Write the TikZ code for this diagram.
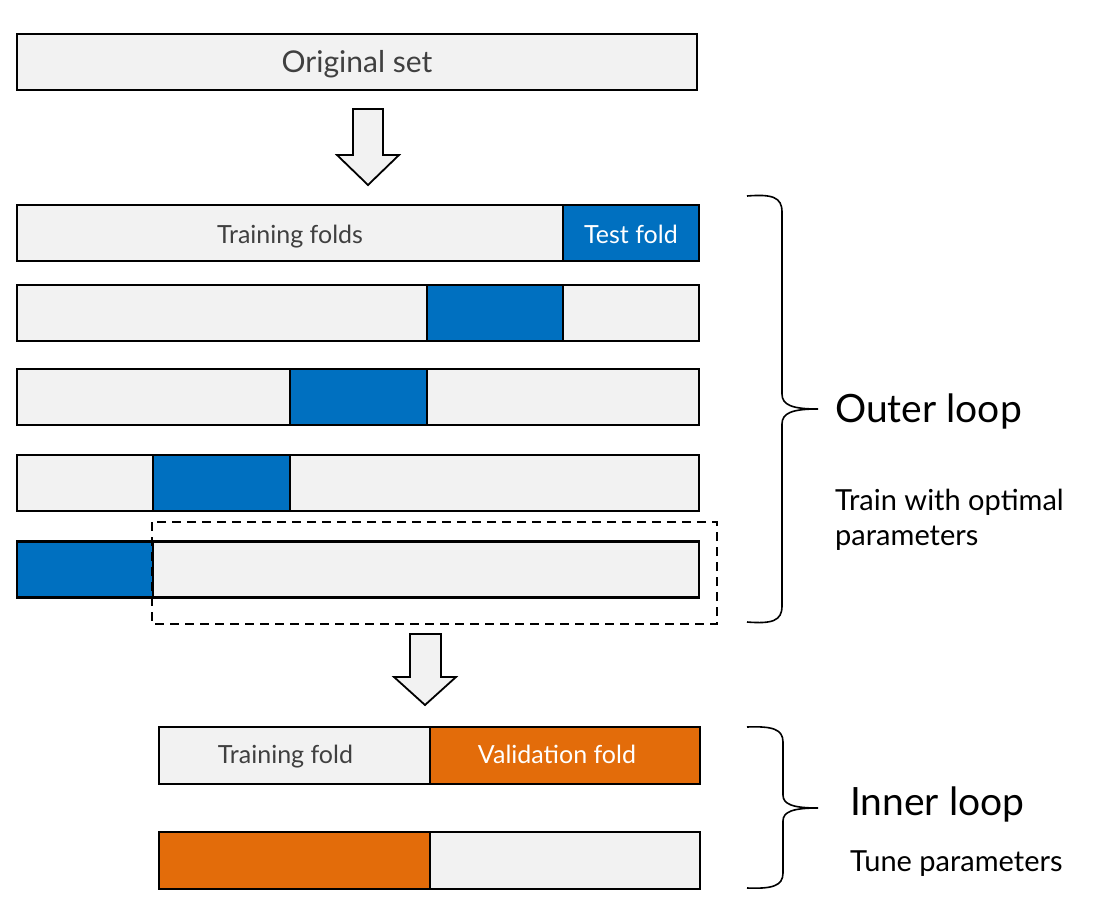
\documentclass[tikz,border=0pt]{standalone}
\usepackage{fontspec}
\setmainfont{Lato}
\definecolor{barfill}{HTML}{F2F2F2}
\definecolor{foldblue}{HTML}{0070C0}
\definecolor{foldorange}{HTML}{E36C0A}
\definecolor{bartext}{HTML}{404040}
\begin{document}
\begin{tikzpicture}[x=1pt,y=-1pt,
  seg/.style={draw=black, line width=2.6pt, inner sep=0pt, outer sep=0pt, anchor=center, text height=20pt, text depth=0pt},
  graybar/.style={seg, fill=barfill, text=bartext, font=\fontsize{25}{29}\selectfont},
  bluebar/.style={seg, fill=foldblue, text=white, font=\fontsize{25}{29}\selectfont},
  orangebar/.style={seg, fill=foldorange, text=white, font=\fontsize{25}{29}\selectfont},
  bartextlabel/.style={inner sep=0pt, anchor=center, text height=16pt, text depth=0pt, font=\fontsize{25}{29}\selectfont},
  blockarrow/.style={draw=black, line width=1.8pt, fill=barfill, line join=miter},
  bracestyle/.style={draw=black, line width=1.6pt},
  biglabel/.style={anchor=base west, inner sep=0pt, font=\fontsize{39}{44}\selectfont},
  smalllabel/.style={anchor=base west, inner sep=0pt, font=\fontsize{29}{35}\selectfont}
]
\useasboundingbox (0,0) rectangle (1113,915);

% original set
\node[graybar, minimum width=680, minimum height=56, font=\fontsize{30}{34}\selectfont, text height=22pt] (orig) at (357,62) {Original set};

% arrow 1
\draw[blockarrow] (353,109) -- (383,109) -- (383,155) -- (399,155) -- (368,185) -- (337,155) -- (353,155) -- cycle;

% row 1
\node[graybar, minimum width=546, minimum height=56] (r1a) at (290,233) {Training folds};
\node[bluebar, minimum width=136, minimum height=56] (r1b) at (631,233) {Test fold};
% row 2
\node[graybar, minimum width=410, minimum height=56] (r2a) at (222,313) {};
\node[bluebar, minimum width=136, minimum height=56] (r2b) at (495,313) {};
\node[graybar, minimum width=136, minimum height=56] (r2c) at (631,313) {};
% row 3
\node[graybar, minimum width=273, minimum height=56] (r3a) at (153.5,397) {};
\node[bluebar, minimum width=137, minimum height=56] (r3b) at (358.5,397) {};
\node[graybar, minimum width=272, minimum height=56] (r3c) at (563,397) {};
% row 4
\node[graybar, minimum width=136, minimum height=56] (r4a) at (85,483) {};
\node[bluebar, minimum width=137, minimum height=56] (r4b) at (221.5,483) {};
\node[graybar, minimum width=409, minimum height=56] (r4c) at (494.5,483) {};
% row 5
\node[graybar, minimum width=546, minimum height=56] (r5b) at (426,569.5) {};
\node[bluebar, minimum width=136, minimum height=56] (r5a) at (85,569.5) {};

% dashed selection
\draw[black, line width=2.4pt, dash pattern=on 9pt off 6pt] (152,522) rectangle (717,624);

% arrow 2
\draw[blockarrow] (410,634) -- (441,634) -- (441,677) -- (456,677) -- (425,705) -- (394,677) -- (410,677) -- cycle;

% inner rows
\node[graybar, minimum width=271, minimum height=57] (i1a) at (294.5,755.5) {};
\node[orangebar, minimum width=270, minimum height=57] (i1b) at (565,755.5) {};
\node[bartextlabel, text=bartext] (i1atext) at ([xshift=-9pt]i1a.center) {Training fold};
\node[bartextlabel, text=white] (i1btext) at ([xshift=-8pt]i1b.center) {Validation fold};
\node[orangebar, minimum width=271, minimum height=57] (i2a) at (294.5,860.5) {};
\node[graybar, minimum width=270, minimum height=57] (i2b) at (565,860.5) {};

% outer brace
\draw[bracestyle] (747,196) .. controls (772,194) and (782,197) .. (782,212)
  -- (782,394) .. controls (782,405) and (792,409) .. (818,409)
  .. controls (792,409) and (782,413) .. (782,424)
  -- (782,606) .. controls (782,621) and (772,624) .. (747,622);
% inner brace
\draw[bracestyle] (747,727) .. controls (772,726) and (783,729) .. (783,742)
  -- (783,795) .. controls (783,804) and (792,808) .. (818,808)
  .. controls (792,808) and (783,812) .. (783,821)
  -- (783,873) .. controls (783,886) and (772,889) .. (747,888);

% labels
\node[biglabel] (outer) at (835,422) {Outer loop};
\node[smalllabel] (train1) at (835,510) {Train with optimal};
\node[smalllabel] (train2) at (835,545) {parameters};
\node[biglabel] (inner) at (850,815) {Inner loop};
\node[smalllabel] (tune) at (850,871) {Tune parameters};
\end{tikzpicture}
\end{document}
